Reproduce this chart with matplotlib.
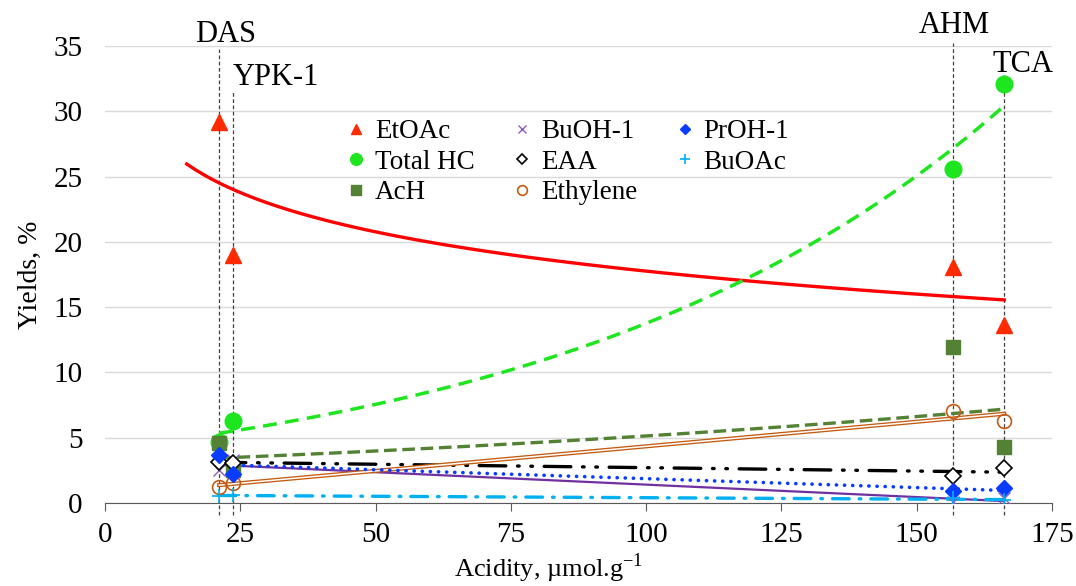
import numpy as np
import matplotlib
matplotlib.use('Agg')
from matplotlib import pyplot as plt

plt.rcParams['font.family'] = ['Liberation Serif', 'DejaVu Serif']
plt.rcParams['mathtext.fontset'] = 'custom'
plt.rcParams['mathtext.rm'] = 'Liberation Serif'
plt.rcParams['font.size'] = 21

# catalysts and their acidity (umol/g)
catalysts = ['DAS', 'YPK-1', 'AHM', 'TCA']
acidity = [21.1, 23.6, 156.8, 166.2]

# product yields, %
etoac = [29.2, 19.0, 18.1, 13.6]
total_hc = [4.7, 6.3, 25.6, 32.1]
ach = [4.6, 2.5, 11.95, 4.3]
buoh = [2.5, 3.3, 0.05, 0.4]
eaa = [3.15, 3.1, 2.05, 2.7]
ethylene = [1.25, 1.55, 7.05, 6.3]
proh = [3.65, 2.2, 0.9, 1.15]
buoac = [0.55, 0.6, 0.35, 0.2]

x = np.array(acidity)

fig = plt.figure(figsize=(10.76, 5.86), dpi=100)
ax = fig.add_axes([0.0976, 0.1416, 0.88, 0.7799])


def linear_trend(y, x0, x1):
    k, b = np.polyfit(x, y, 1)
    xs = np.linspace(x0, x1, 50)
    return xs, k * xs + b


def exp_trend(y, x0, x1):
    k, b = np.polyfit(x, np.log(y), 1)
    xs = np.linspace(x0, x1, 100)
    return xs, np.exp(b + k * xs)


def log_trend(y, x0, x1):
    k, b = np.polyfit(np.log(x), y, 1)
    xs = np.linspace(x0, x1, 100)
    return xs, k * np.log(xs) + b


xmin, xmax = x.min(), x.max()

# trendlines
xs, ys = log_trend(etoac, xmin - 6, xmax)
ax.plot(xs, ys, color='#FF0000', lw=2.4, zorder=3)
xs, ys = exp_trend(total_hc, xmin, xmax)
ax.plot(xs, ys, color='#1EE61E', lw=2.5, dashes=(4.0, 2.4), zorder=3)
xs, ys = exp_trend(ach, xmin, xmax)
ax.plot(xs, ys, color='#548235', lw=2.4, dashes=(3.8, 1.7), zorder=3)
xs, ys = linear_trend(buoh, xmin, xmax)
ax.plot(xs, ys, color='#7030A0', lw=1.6, zorder=3)
xs, ys = linear_trend(eaa, xmin, xmax)
ax.plot(xs, ys, color='black', lw=2.4, dashes=(8, 3.5, 0.5, 3.5, 0.5, 3.5),
        dash_capstyle='round', zorder=3)
xs, ys = linear_trend(ethylene, xmin, xmax)
ax.plot(xs, ys, color='#C55A11', lw=3.0, zorder=3)
ax.plot(xs, ys, color='white', lw=1.1, zorder=3)
xs, ys = linear_trend(proh, xmin, xmax)
ax.plot(xs, ys, color='#0A3CFF', lw=2.6, dashes=(0.05, 2.2),
        dash_capstyle='round', zorder=3)
xs, ys = linear_trend(buoac, xmin, xmax)
ax.plot(xs, ys, color='#00B0F0', lw=2.4, dashes=(5, 3, 0.5, 3),
        dash_capstyle='round', zorder=3)

# data points
ax.plot(x, etoac, '^', color='#FF2A00', ms=11, ls='none', label='EtOAc', zorder=4)
ax.plot(x, total_hc, 'o', color='#1EE61E', ms=12, ls='none', label='Total HC', zorder=4)
ax.plot(x, ach, 's', color='#548235', ms=10, ls='none', label='AcH', zorder=4)
ax.plot(x, buoh, 'x', color='#8E5CC4', ms=9, mew=1.0, ls='none', label='BuOH-1', zorder=4)
ax.plot(x, eaa, 'D', mfc='white', mec='black', mew=1.2, ms=8, ls='none', label='EAA', zorder=4)
ax.plot(x, ethylene, 'o', mfc='none', mec='#C55A11', mew=1.2, ms=10, ls='none',
        label='Ethylene', zorder=4)
ax.plot(x, proh, 'D', color='#0A3CFF', ms=8, ls='none', label='PrOH-1', zorder=4)
ax.plot(x, buoac, '+', color='#00B0F0', ms=10, mew=1.2, ls='none', label='BuOAc', zorder=4)

# catalyst markers: dashed drop lines with names on top
tops = [34.8, 31.6, 35.2, 32.8]
label_pos = [(22.3, 34.75, 'center'), (23.6, 31.45, 'left'),
             (156.9, 35.45, 'center'), (169.6, 32.5, 'center')]
for xc, top, name, (lx, ly, ha) in zip(acidity, tops, catalysts, label_pos):
    ax.plot([xc, xc], [-0.9, top], color='#404040', lw=0.9, dashes=(3, 2),
            clip_on=False, zorder=2)
    ax.text(lx, ly, name, ha=ha, va='bottom', fontsize=22, clip_on=False)

ax.set_xlim(0, 175)
ax.set_ylim(0, 35)
ax.set_xticks(np.arange(0, 176, 25))
ax.set_yticks(np.arange(0, 36, 5))
ax.grid(axis='y', color='#D9D9D9', lw=1.0)
ax.set_axisbelow(True)
for side in ['top', 'right', 'left']:
    ax.spines[side].set_visible(False)
ax.spines['bottom'].set_color('#595959')
ax.tick_params(axis='x', direction='out', length=6, color='#595959', pad=8)
ax.tick_params(axis='y', length=0, pad=16)

ax.set_xlabel('Acidity, µmol.g$^{\\mathrm{-1}}$', fontsize=19)
ax.xaxis.set_label_coords(0.468, -0.106)
ax.set_ylabel('Yields, %', fontsize=20, labelpad=8)

ax.legend(ncol=3, loc='upper left', bbox_to_anchor=(0.222, 0.893), frameon=False,
          handletextpad=0.1, columnspacing=1.15, labelspacing=0.2,
          handlelength=1.2, markerscale=0.7, fontsize=19.5)

fig.savefig('out.png', dpi=100)
